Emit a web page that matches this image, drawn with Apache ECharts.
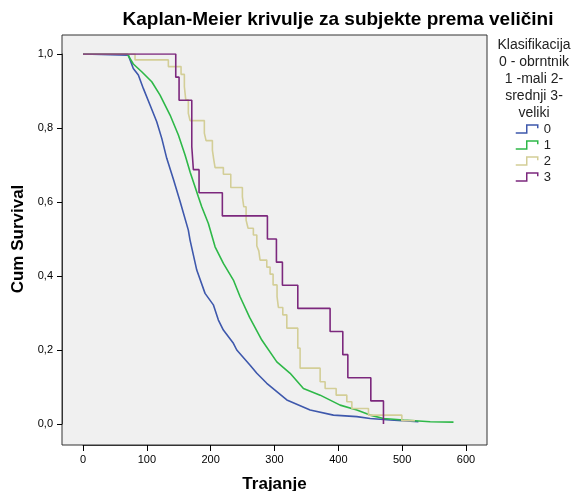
<!DOCTYPE html>
<html><head><meta charset="utf-8">
<script src="https://cdn.jsdelivr.net/npm/echarts@6/dist/echarts.min.js"></script>
<style>html,body{margin:0;padding:0;background:#fff}#c{width:573px;height:491px}</style>
</head><body><div id="c"></div>
<script>
var categories = ['0', '1', '2', '3'];
var seriesColors = ['#3e58ac', '#2eb848', '#d3ce97', '#7c287d'];
var xTickValues = [0, 100, 200, 300, 400, 500, 600];
var yTickLabels = ['0,0', '0,2', '0,4', '0,6', '0,8', '1,0'];

// Group 0 (blue)
var surv0 = [[0,1],[71,0.997],[78.8,0.961],[86.7,0.943],[94.5,0.907],[105,0.862],[115.5,0.817],[123.4,0.772],[131.2,0.718],[141.5,0.662],[152,0.602],[165,0.524],[167.7,0.497],[178.2,0.416],[191.2,0.353],[204.2,0.322],[212.1,0.281],[219.9,0.254],[235.6,0.218],[240.9,0.2],[261.8,0.159],[272.3,0.137],[287.9,0.11],[319.3,0.065],[355.8,0.038],[392.3,0.024],[429,0.02],[449.8,0.015],[481.2,0.011],[525.5,0.006]];
// Group 1 (green)
var surv1 = [[0,1],[69.4,1],[78.8,0.973],[92,0.952],[107.7,0.925],[120.7,0.889],[136.4,0.835],[149.4,0.781],[159.9,0.727],[168,0.68],[180.7,0.614],[186,0.587],[196.4,0.542],[206.9,0.479],[219.9,0.434],[235.6,0.389],[246.1,0.344],[261,0.288],[280.1,0.227],[303.6,0.168],[324.5,0.137],[345.3,0.096],[371.5,0.078],[402.8,0.051],[429,0.038],[449.8,0.024],[470.7,0.015],[502,0.011],[543.9,0.006],[580.4,0.005]];
// Group 2 (beige)
var surv2 = [[0,1],[81.5,0.984],[133.7,0.966],[153.6,0.945],[158.8,0.912],[161,0.876],[165,0.84],[167.7,0.82],[190.1,0.786],[192.8,0.766],[202.7,0.74],[204.9,0.714],[206.9,0.693],[219.9,0.675],[231.5,0.639],[249.7,0.614],[251.9,0.587],[255.5,0.551],[258.6,0.529],[266.9,0.511],[272.3,0.481],[275.4,0.468],[277.4,0.443],[287.9,0.424],[293.1,0.405],[297.8,0.376],[304,0.344],[306.1,0.315],[313,0.295],[319.3,0.259],[336.5,0.205],[340.1,0.151],[371.5,0.114],[379.3,0.096],[396.6,0.078],[413.3,0.06],[421.2,0.042],[447.2,0.024],[499.5,0.009],[520,0.009]];
// Group 3 (purple)
var surv3 = [[0,1],[145.3,0.9375],[150.5,0.875],[170.4,0.75],[172.9,0.6875],[181.8,0.625],[218.3,0.5625],[288.9,0.5],[303,0.4375],[312.4,0.375],[336.5,0.3125],[387.1,0.25],[407,0.1875],[414.9,0.125],[450.9,0.0625],[470.7,0]];

var survData = [surv0, surv1, surv2, surv3];
var stepModes = [false, false, 'end', 'end'];

var chart = echarts.init(document.getElementById('c'), null, {renderer: 'canvas'});
var font = 'Liberation Sans, Arial, sans-serif';

var series = categories.map(function (name, i) {
  return {
    name: name,
    type: 'line',
    xAxisIndex: 1,
    yAxisIndex: 1,
    data: survData[i],
    step: stepModes[i],
    showSymbol: false,
    symbol: 'none',
    lineStyle: {color: seriesColors[i], width: 1.6},
    itemStyle: {color: seriesColors[i]},
    emphasis: {disabled: true},
    animation: false,
    z: 2 + i
  };
});

var legendData = categories.map(function (name, i) {
  return {
    name: name,
    icon: 'path://M0,10 L10,10 L10,0 L20,0 L20,4',
    itemStyle: {color: 'transparent', borderColor: seriesColors[i], borderWidth: 1.5}
  };
});

chart.setOption({
  animation: false,
  textStyle: {fontFamily: font},
  title: [{
    text: 'Kaplan-Meier krivulje za subjekte prema veličini',
    left: 333, top: 5, textAlign: 'center',
    textStyle: {fontFamily: font, fontSize: 19, fontWeight: 'bold', color: '#000'}
  }, {
    text: 'Klasifikacija\n0 - obrntnik\n1 -mali 2-\nsrednji 3-\nveliki',
    left: 529, top: 32, textAlign: 'center',
    textStyle: {fontFamily: font, fontSize: 14, fontWeight: 'normal', color: '#222', lineHeight: 17, align: 'center'}
  }],
  legend: {
    data: legendData,
    orient: 'vertical',
    left: 510, top: 117,
    itemWidth: 22, itemHeight: 8, itemGap: 2,
    symbolKeepAspect: false,
    textStyle: {fontFamily: font, fontSize: 13, color: '#222', lineHeight: 14, padding: [0, 0, 0, 1]},
    selectedMode: false
  },
  grid: [
    {left: 62, right: 86, top: 35, bottom: 46, show: true, backgroundColor: '#f0f0f0', borderColor: '#333', borderWidth: 1, containLabel: false, outerBoundsMode: 'none'},
    {left: 83, right: 107, top: 54, bottom: 67, show: false, containLabel: false, outerBoundsMode: 'none'}
  ],
  xAxis: [
    {gridIndex: 0, type: 'value', show: false, min: 0, max: 1},
    {gridIndex: 1, type: 'value', min: xTickValues[0], max: xTickValues[xTickValues.length - 1], interval: 100,
     offset: 21,
     axisLine: {show: true, onZero: false, lineStyle: {color: '#333', width: 1}},
     axisTick: {show: true, length: 6, lineStyle: {color: '#000'}},
     splitLine: {show: false},
     axisLabel: {fontFamily: font, fontSize: 11, color: '#000', margin: 9},
     name: 'Trajanje', nameLocation: 'middle', nameGap: 31,
     nameTextStyle: {fontFamily: font, fontSize: 17, fontWeight: 'bold', color: '#000'}}
  ],
  yAxis: [
    {gridIndex: 0, type: 'value', show: false, min: 0, max: 1},
    {gridIndex: 1, type: 'value', min: 0, max: 1, interval: 0.2,
     offset: 21,
     axisLine: {show: true, onZero: false, lineStyle: {color: '#333', width: 1}},
     axisTick: {show: true, length: 5, lineStyle: {color: '#000'}},
     splitLine: {show: false},
     axisLabel: {fontFamily: font, fontSize: 11, color: '#000', margin: 9,
       formatter: function (v) { return yTickLabels[Math.round(v * 5)]; }},
     name: 'Cum Survival', nameLocation: 'middle', nameGap: 35, nameRotate: 90,
     nameTextStyle: {fontFamily: font, fontSize: 17, fontWeight: 'bold', color: '#000'}}
  ],
  series: series
});
</script>
</body></html>
